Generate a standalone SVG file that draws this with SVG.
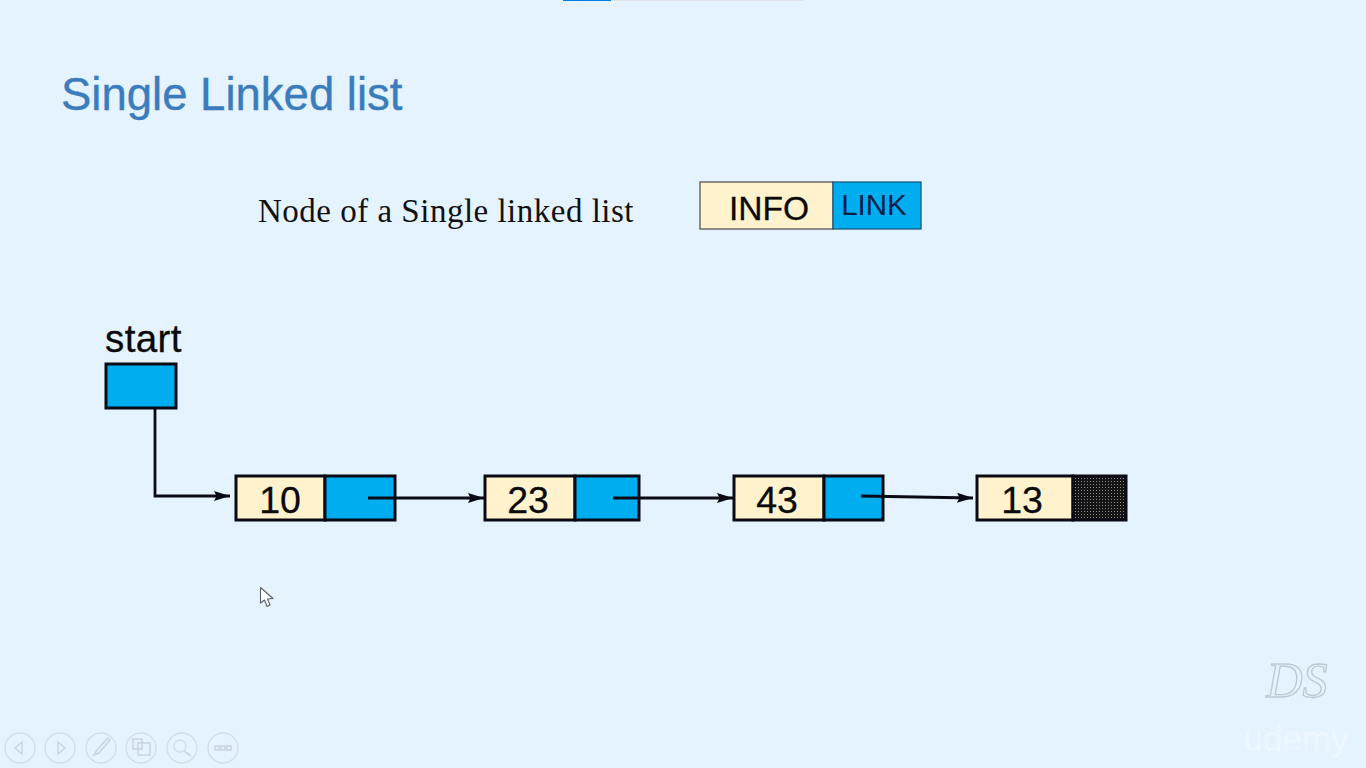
<svg xmlns="http://www.w3.org/2000/svg" width="1366" height="768" viewBox="0 0 1366 768">
<style>
text{font-family:"Liberation Sans",Arial,sans-serif;fill:#0a0a0a}
.cell{stroke:#0a0a14;stroke-width:3}
.info{fill:#fff2cc}
.link{fill:#00aeef}
.num{font-size:37.500px;text-anchor:middle;stroke:#0a0a0a;stroke-width:.3}
.conn{fill:none;stroke:#0a0a14;stroke-width:2.8;marker-end:url(#arrow)}
.nav circle{fill:none;stroke:#d3dde6;stroke-width:1.4}
.nav path,.nav rect{fill:none;stroke:#cbd5df;stroke-width:1.6}
</style>
<defs>
<marker id="arrow" markerUnits="userSpaceOnUse" markerWidth="18" markerHeight="12" refX="16" refY="6" orient="auto">
<path d="M0 1 L16 6 L0 11 L2.500 6 Z" fill="#0a0a14"/>
</marker>
<pattern id="dots" width="3" height="3" patternUnits="userSpaceOnUse">
<rect width="3" height="3" fill="#141414"/>
<rect x="1" y="1" width="1" height="1" fill="#8a8a8a"/>
</pattern>
</defs>
<rect width="1366" height="768" fill="#e5f3ff"/>
<g id="progress">
<rect x="612" y="0" width="192" height="1" fill="#dfe3e8"/>
<rect x="563" y="0" width="48" height="1" fill="#007ee5"/>
</g>
<text id="title" x="61" y="110" font-size="45.500" style="fill:#3b7cbc;stroke:#3b7cbc;stroke-width:.4">Single Linked list</text>
<text id="caption" x="258" y="222" font-size="33" style="font-family:'Liberation Serif','Times New Roman',serif;letter-spacing:.5px;fill:#111">Node of a Single linked list</text>
<g id="legend">
<rect x="700" y="182" width="133" height="47" class="info" stroke="#555" stroke-width="1.3"/>
<rect x="833" y="182" width="88" height="47" class="link" stroke="#1a5a80" stroke-width="1.3"/>
<text x="769" y="220" font-size="33.500" text-anchor="middle" style="stroke:#0a0a0a;stroke-width:.3">INFO</text>
<text x="874" y="214.500" font-size="29.500" text-anchor="middle" style="fill:#04204a">LINK</text>
</g>
<g id="start">
<text x="105" y="352" font-size="38.500" style="letter-spacing:.4px;stroke:#0a0a0a;stroke-width:.3">start</text>
<rect x="106" y="364" width="70" height="44" class="cell link"/>
</g>
<g id="node-10">
<rect x="236" y="476" width="89" height="44" class="cell info"/>
<rect x="325" y="476" width="70" height="44" class="cell link"/>
<text x="280" y="513" class="num">10</text>
</g>
<g id="node-23">
<rect x="485" y="476" width="90" height="44" class="cell info"/>
<rect x="575" y="476" width="64" height="44" class="cell link"/>
<text x="528" y="513" class="num">23</text>
</g>
<g id="node-43">
<rect x="734" y="476" width="90" height="44" class="cell info"/>
<rect x="824" y="476" width="59" height="44" class="cell link"/>
<text x="777" y="513" class="num">43</text>
</g>
<g id="node-13">
<rect x="977" y="476" width="96" height="44" class="cell info"/>
<rect x="1073" y="476" width="53" height="44" fill="url(#dots)" class="cell"/>
<text x="1022" y="513" class="num">13</text>
</g>
<g id="connectors">
<path class="conn" d="M155 408 V496 H230"/>
<path class="conn" d="M368 498 H484"/>
<path class="conn" d="M613 498 H733"/>
<path class="conn" d="M861 496 L973 498"/>
</g>
<g id="cursor">
<path d="M260.500 587.500 V603 L264.500 600 L267 606.500 L270 605 L267.500 599 L273 598.500 Z" fill="#fbfdff" stroke="#5a5f65" stroke-width="1.100" stroke-linejoin="round"/>
</g>
<g id="nav" class="nav">
<circle cx="20" cy="748" r="15"/><path d="M22 742 L15 748 L22 754 Z"/>
<circle cx="60" cy="748" r="15"/><path d="M58 742 L65 748 L58 754 Z"/>
<circle cx="101" cy="748" r="15"/><path d="M94 755 L97 750 L108 738 L110 740 L99 753 Z"/>
<circle cx="141" cy="748" r="15"/><rect x="133" y="739" width="9" height="10"/><rect x="138" y="743" width="12" height="12"/>
<circle cx="182" cy="748" r="15"/><circle cx="180" cy="746" r="6"/><path d="M184 751 L191 756"/>
<circle cx="223" cy="748" r="15"/><rect x="215" y="746" width="4" height="4"/><rect x="221" y="746" width="4" height="4"/><rect x="227" y="746" width="4" height="4"/>
</g>
<g id="watermark">
<text x="1297" y="697" font-size="50" text-anchor="middle" style="font-family:'Liberation Serif',serif;font-style:italic;fill:none;stroke:#bdc9d2;stroke-width:1.300">DS</text>
<text x="1296" y="751" font-size="35" text-anchor="middle" style="fill:#eef7ff">udemy</text>
</g>
</svg>
